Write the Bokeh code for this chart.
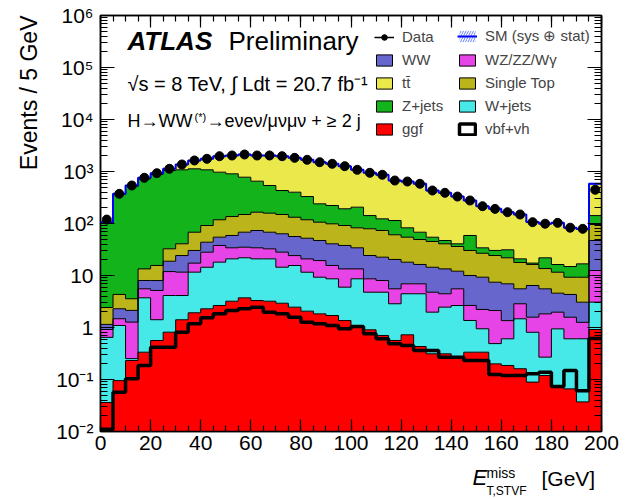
import math
import numpy as np
from bokeh.plotting import figure
from bokeh.layouts import column
from bokeh.models import (FixedTicker, Label, Legend, LegendItem, LinearAxis, LogAxis, Range1d, Title)
from bokeh.embed import file_html
from bokeh.resources import INLINE

FONT = "Liberation Sans"

# ---------------- data (40 bins of 5 GeV, last bin includes overflow) ----------------
bin_edges = list(range(0, 205, 5))

ggf = [0.036, 0.095, 0.232, 0.335, 0.562, 0.812, 1.41, 1.92, 2.29, 2.65,
       3.2, 3.72, 3.3, 3.2, 2.93, 2.46, 2.06, 1.83, 1.70, 1.36,
       1.09, 0.903, 0.702, 0.562, 0.724, 0.431, 0.312, 0.312, 0.277, 0.335,
       0.335, 0.2, 0.186, 0.161, 0.089, 0.119, 0.071, 0.066, 0.037, 0.915]
wjets = [0.61, 1.0, 0.02, 3.39, 0.85, 3.31, 2.71, 9.68, 12.1, 15.4,
         17.7, 18.2, 17.6, 17.7, 11.5, 13.1, 9.5, 7.44, 6.94, 4.6,
         7.55, 3.87, 4.07, 2.3, 3.73, 4.02, 1.66, 2.15, 2.37, 1.03,
         0.61, 0.29, 0.42, 1.31, 0.72, 0.15, 0.87, 0.54, 0.57, 2.16]
wz = [0.27, 0.38, 1.02, 1.83, 3.74, 7.78, 7.48, 5.7, 13.7, 19.8,
      13.2, 13.1, 13.2, 11.7, 13.7, 8.6, 9.3, 10.1, 6.96, 7.44,
      4.76, 3.87, 3.24, 2.69, 2.47, 2.47, 2.8, 1.99, 2.9, 1.29,
      1.28, 1.63, 0.75, 1.39, 0.77, 1.56, 1.03, 0.97, 0.65, 9.4]
ww = [0.23, 0.82, 0.86, 2.46, 2.85, 6.9, 12.6, 13.0, 15.6, 16.7,
      24.7, 33.0, 39.2, 35.4, 35.3, 32.0, 31.2, 27.7, 25.1, 24.4,
      20.7, 15.6, 14.5, 14.8, 11.1, 9.38, 9.63, 8.95, 6.55, 7.35,
      7.05, 5.31, 5.56, 2.69, 4.84, 3.72, 2.6, 2.74, 1.81, 34.6]
single_top = [1.28, 2.03, 1.44, 5.39, 7.6, 13.8, 16.5, 37.7, 47.8, 63.5,
              77.2, 81.0, 91.7, 90.0, 85.6, 75.8, 65.9, 58.9, 57.9, 53.7,
              48.5, 54.9, 50.8, 40.3, 36.5, 32.9, 30.7, 27.3, 24.0, 20.3,
              17.5, 16.8, 15.0, 12.25, 9.9, 8.05, 7.0, 4.95, 6.2, 48.6]
zjets = [97.6, 358.7, 510, 704.6, 859.4, 1012, 1037, 1059, 986.5, 852,
         767, 628, 486, 380, 282, 268, 212, 133, 123.4, 100.5,
         123.4, 62.9, 49.7, 53.4, 28.1, 18.8, 9.4, 6.4, 4.6, 28.5,
         7.3, 6.1, 9.3, 3.1, 1.0, 8.3, 4.7, 5.6, 7.5, 46.3]
ttbar = [6, 9, 24, 39, 52, 82, 286, 502, 677, 999,
         1128, 1346, 1380, 1493, 1538, 1433, 1348, 1271, 1184, 1073,
         872, 802, 742, 557, 559, 512, 376, 342, 289, 218,
         181, 162, 134, 128, 89, 77, 87, 68, 62, 438]
vbf_vh = [0.011, 0.057, 0.103, 0.186, 0.418, 0.418, 0.812, 1.18, 1.54, 1.83,
          2.12, 2.29, 2.46, 1.97, 1.83, 1.58, 1.26, 1.18, 1.09, 0.944,
          1.05, 0.756, 0.606, 0.486, 0.451, 0.361, 0.361, 0.268, 0.268, 0.232,
          0.232, 0.125, 0.119, 0.119, 0.129, 0.138, 0.073, 0.149, 0.061, 0.614]
data = [119, 372, 538, 757, 927, 1127, 1364, 1629, 1755, 1969,
        2031, 2123, 2031, 2031, 1969, 1833, 1678, 1510, 1406, 1265,
        1078, 944, 865, 671, 642, 580, 431, 389, 330, 277,
        215, 191, 165, 149, 106, 99, 103, 83, 79, 445]

x_ticks = list(range(0, 201, 20))
x_minor = list(range(0, 201, 5))
y_ticks = [0.01, 0.1, 1, 10, 100, 1000, 10000, 100000, 1000000]
y_tick_labels = ["10\u207b\u00b2", "10\u207b\u00b9", "1", "10", "10\u00b2", "10\u00b3",
                 "10\u2074", "10\u2075", "10\u2076"]
y_minor = [k * 10.0 ** e for e in range(-2, 6) for k in range(2, 10)]

# colours
C_WW, C_WZ, C_TT, C_ST = "#6666cc", "#e644e6", "#ebe84c", "#bbb51b"
C_Z, C_W, C_GGF = "#13b31b", "#47e8e8", "#ff0000"

# ---------------- figure ----------------
p = figure(width=628, height=466, x_range=Range1d(0, 200), y_range=Range1d(0.01, 1e6),
           y_axis_type="log", output_backend="svg", toolbar_location=None,
           min_border_left=100, min_border_right=27, min_border_top=15, min_border_bottom=35)
p.xgrid.visible = False
p.ygrid.visible = False
p.outline_line_color = "black"
p.outline_line_width = 1.5
p.background_fill_color = "white"

edges = np.array(bin_edges, dtype=float)
centers = (edges[:-1] + edges[1:]) / 2
xs = np.repeat(edges, 2)[1:-1]


def steps(v):
    return np.repeat(np.asarray(v, dtype=float), 2)


layers = [(ggf, C_GGF), (wjets, C_W), (wz, C_WZ), (ww, C_WW),
          (single_top, C_ST), (zjets, C_Z), (ttbar, C_TT)]

bottom = np.full(len(ggf), 1e-4)
tops = []
for vals, col in layers:
    top = bottom + np.asarray(vals, dtype=float)
    p.varea(x=xs, y1=steps(bottom), y2=steps(top), fill_color=col)
    tops.append(top)
    bottom = top
for top in tops:
    p.line(x=xs, y=steps(top), line_color="black", line_width=1)

total = tops[-1]

# vbf+vh outline
p.line(x=xs, y=steps(vbf_vh), line_color="black", line_width=3.5)

# SM band + line
band = p.varea(x=xs, y1=steps(total * 0.95), y2=steps(total * 1.05), fill_alpha=0,
               hatch_pattern="/", hatch_color="#4060ff", hatch_scale=5, hatch_weight=1,
               hatch_alpha=0.8)
sm_line = p.line(x=xs, y=steps(total), line_color="#0000ff", line_width=2)

# data
d = np.asarray(data, dtype=float)
err = p.segment(x0=centers, y0=d - np.sqrt(d), x1=centers, y1=d + np.sqrt(d),
                line_color="black", line_width=1.5)
pts = p.scatter(x=centers, y=d, size=9, color="black")

# ---------------- axes ----------------
for ax in p.xaxis:
    ax.ticker = FixedTicker(ticks=x_ticks, minor_ticks=x_minor)
for ax in p.yaxis:
    ax.ticker = FixedTicker(ticks=y_ticks, minor_ticks=y_minor)
    ax.major_label_overrides = {t: l for t, l in zip(y_ticks, y_tick_labels)}

for ax in list(p.xaxis) + list(p.yaxis):
    ax.major_tick_in = 12
    ax.major_tick_out = 0
    ax.minor_tick_in = 6
    ax.minor_tick_out = 0
    ax.axis_line_width = 1.5
    ax.major_tick_line_width = 1.2
    ax.minor_tick_line_width = 1.2
    ax.major_label_text_font = FONT
    ax.major_label_text_font_size = "21px"
    ax.major_label_text_color = "black"
p.xaxis.major_label_standoff = 4
p.yaxis.major_label_standoff = 7
p.yaxis.major_tick_in = 14
p.yaxis.minor_tick_in = 7

top_ax = LinearAxis(ticker=FixedTicker(ticks=x_ticks, minor_ticks=x_minor))
top_ax.major_label_overrides = {t: "" for t in x_ticks}
right_ax = LogAxis(ticker=FixedTicker(ticks=y_ticks, minor_ticks=y_minor))
right_ax.major_label_overrides = {t: "" for t in y_ticks}
for ax, tin, mtin in ((top_ax, 12, 6), (right_ax, 14, 7)):
    ax.major_tick_in = tin
    ax.major_tick_out = 0
    ax.minor_tick_in = mtin
    ax.minor_tick_out = 0
    ax.major_label_text_font_size = "1px"
    ax.major_label_standoff = 0
    ax.axis_line_width = 1.5
    ax.major_tick_line_width = 1.2
    ax.minor_tick_line_width = 1.2
p.add_layout(top_ax, "above")
p.add_layout(right_ax, "right")

# y-axis title, aligned to the top like ROOT
p.add_layout(Title(text="Events / 5 GeV", align="right", text_font=FONT,
                   text_font_size="23px", text_font_style="normal",
                   text_color="black", standoff=24), "left")

# ---------------- legend (two columns) ----------------
def box(col, lw=1.0):
    return p.quad(left=[np.nan], right=[np.nan], top=[np.nan], bottom=[np.nan],
                  fill_color=col, line_color="black", line_width=lw)


col1 = [
    LegendItem(label="Data", renderers=[err, pts]),
    LegendItem(label="WW", renderers=[box(C_WW)]),
    LegendItem(label="tt\u0304", renderers=[box(C_TT)]),
    LegendItem(label="Z+jets", renderers=[box(C_Z)]),
    LegendItem(label="ggf", renderers=[box(C_GGF)]),
]
col2 = [
    LegendItem(label="SM (sys \u2295 stat)", renderers=[band, sm_line]),
    LegendItem(label="WZ/ZZ/W\u03b3", renderers=[box(C_WZ)]),
    LegendItem(label="Single Top", renderers=[box(C_ST)]),
    LegendItem(label="W+jets", renderers=[box(C_W)]),
    LegendItem(label="vbf+vh", renderers=[box("white", 3.5)]),
]
for items, xloc in ((col1, 274), (col2, 357)):
    leg = Legend(items=items, location=(xloc, 294), orientation="vertical",
                 glyph_width=20, glyph_height=14, label_height=14,
                 label_standoff=8, spacing=6, padding=3, margin=0,
                 label_text_font=FONT, label_text_font_size="15px",
                 border_line_color=None, background_fill_alpha=0)
    p.add_layout(leg, "center")

# ---------------- texts inside the frame ----------------
def lab(fig, x, y, text, size, style="normal", **kw):
    fig.add_layout(Label(x=x, y=y, x_units="screen", y_units="screen", text=text,
                         text_font=FONT, text_font_size=size, text_font_style=style,
                         text_color="black", **kw))


lab(p, 27, 376, "ATLAS", "26px", "bold italic")
lab(p, 128, 376, "Preliminary", "26px")
lab(p, 27, 337, "\u221as = 8 TeV, \u222b Ldt = 20.7 fb\u207b\u00b9", "20px")
lab(p, 27, 301, "H\u2192WW", "18px")
lab(p, 94, 309, "(*)", "11px")
lab(p, 106, 301, "\u2192e\u03bde\u03bd/\u03bc\u03bd\u03bc\u03bd + \u2265 2 j", "18px")

# ---------------- x-axis title strip (frame aligned with the main frame) ----------------
strip = figure(width=628, height=33, x_range=Range1d(0, 1), y_range=Range1d(0, 1),
               output_backend="svg", toolbar_location=None, min_border=0,
               x_axis_location=None, y_axis_location=None)
strip.xgrid.visible = False
strip.ygrid.visible = False
strip.outline_line_color = None
lab(strip, 372, 10, "E", "22px", "italic")
lab(strip, 386, 19, "miss", "14px")
lab(strip, 386, 2, "T,STVF", "12px")
lab(strip, 441, 10, "[GeV]", "21px")

layout = column(p, strip, spacing=0)
open("out.html", "w").write(file_html(layout, INLINE))
